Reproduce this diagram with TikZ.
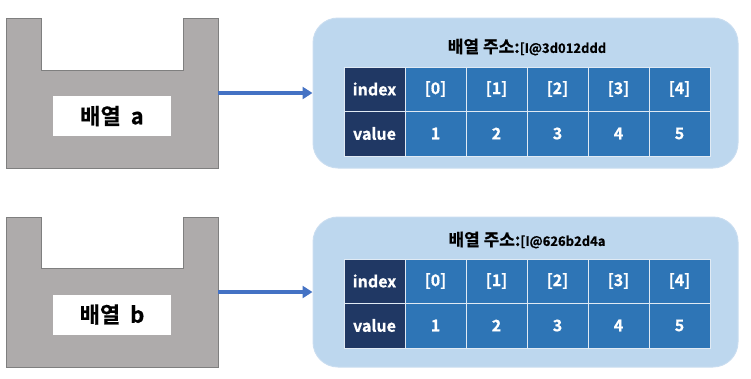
\documentclass[tikz,border=0pt]{standalone}
\usepackage{fontspec}
\setmainfont{Noto Sans CJK KR}[BoldFont={Noto Sans CJK KR Bold}, BoldFeatures={FakeBold=0.6}]
\usetikzlibrary{arrows.meta}
\definecolor{holdfill}{HTML}{AEABAB}
\definecolor{holdline}{HTML}{7F7F7F}
\definecolor{panelfill}{HTML}{BDD7EE}
\definecolor{panelline}{HTML}{C9DDF0}
\definecolor{navy}{HTML}{203864}
\definecolor{cellblue}{HTML}{2E75B6}
\definecolor{arrowblue}{HTML}{4472C4}
\tikzset{
  holder/.style={fill=holdfill, draw=holdline, line width=0.8pt},
  holderlabel/.style={fill=white, minimum width=118pt, minimum height=40pt, inner sep=0pt,
    font=\fontsize{22}{22}\selectfont\bfseries},
  panel/.style={fill=panelfill, draw=panelline, line width=1pt, rounded corners=25pt,
    minimum width=425pt, minimum height=150pt, inner sep=0pt},
  cellbase/.style={draw=white!85!cellblue, line width=1pt, minimum width=61pt, inner sep=0pt,
    text=white, font=\fontsize{16}{16}\selectfont\bfseries},
  headcell/.style={cellbase, fill=navy},
  datacell/.style={cellbase, fill=cellblue},
  link/.style={draw=arrowblue, line width=3.2pt, -{Triangle[length=10pt,width=12pt]}},
}
\begin{document}
\begin{tikzpicture}[x=1pt,y=-1pt]
\useasboundingbox (0,0) rectangle (751,378);
% ---------- array a ----------
\node[minimum width=212pt, minimum height=150pt, inner sep=0pt] (holdA) at (112,93) {};
\draw[holder] (6,18) -- (41,18) -- (41,70) -- (183,70) -- (183,18) -- (218,18) -- (218,168) -- (6,168) -- cycle;
\node[holderlabel] (labA) at (112,116) {배열\ \ a};
\node[panel] (panA) at (525.5,93) {};
\node (titA) at (527,47) {\fontsize{17}{17}\selectfont\bfseries 배열 주소:\fontsize{13}{13}\selectfont[I@3d012ddd};
\node[headcell, minimum height=44pt] (aH) at (374.5,89) {index};
\node[headcell, minimum height=45pt] (aV) at (374.5,133.5) {value};
\foreach \i in {0,...,4} {
  \pgfmathsetmacro{\xx}{435.5+61*\i}
  \pgfmathtruncatemacro{\vv}{\i+1}
  \node[datacell, minimum height=44pt] (aI\i) at (\xx,89) {[\i]};
  \node[datacell, minimum height=45pt] (aD\i) at (\xx,133.5) {\vv};
}
\draw[link] (holdA.east) -- (panA.west);
% ---------- array b ----------
\node[minimum width=212pt, minimum height=150pt, inner sep=0pt] (holdB) at (112,292) {};
\draw[holder] (6,217) -- (41,217) -- (41,268) -- (183,268) -- (183,217) -- (218,217) -- (218,367) -- (6,367) -- cycle;
\node[holderlabel] (labB) at (112,314.5) {배열\ \ b};
\node[panel] (panB) at (525.5,292) {};
\node (titB) at (527,240) {\fontsize{17}{17}\selectfont\bfseries 배열 주소:\fontsize{13}{13}\selectfont[I@626b2d4a};
\node[headcell, minimum height=44pt] (bH) at (374.5,281) {index};
\node[headcell, minimum height=45pt] (bV) at (374.5,325.5) {value};
\foreach \i in {0,...,4} {
  \pgfmathsetmacro{\xx}{435.5+61*\i}
  \pgfmathtruncatemacro{\vv}{\i+1}
  \node[datacell, minimum height=44pt] (bI\i) at (\xx,281) {[\i]};
  \node[datacell, minimum height=45pt] (bD\i) at (\xx,325.5) {\vv};
}
\draw[link] (holdB.east) -- (panB.west);
\end{tikzpicture}
\end{document}
